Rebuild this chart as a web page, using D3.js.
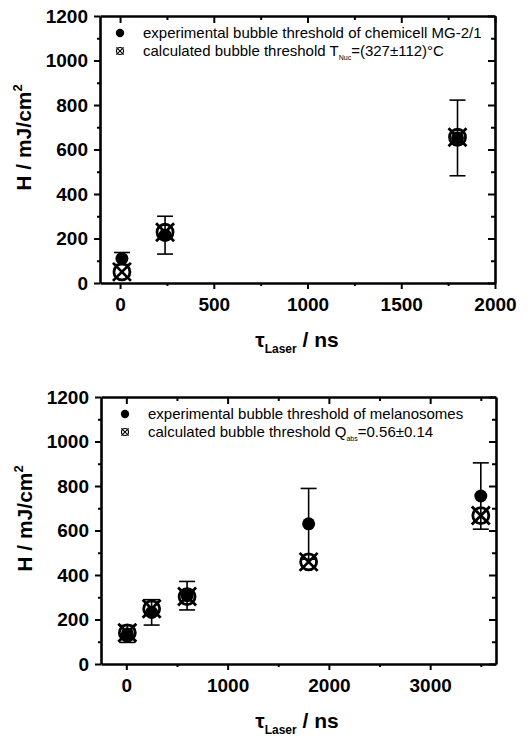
<!DOCTYPE html>
<html>
<head>
<meta charset="utf-8">
<script src="https://cdn.jsdelivr.net/npm/d3@7"></script>
<style>
  body { margin: 0; background: #fff; }
  text { font-family: "Liberation Sans", Arial, sans-serif; fill: #000; }
</style>
</head>
<body>
<svg id="chart" width="530" height="743"></svg>
<script>
//Top panel: chemicell MG-2/1
const tauTop = [10, 240, 1800];
const expTop = [110, 215, 652];
const expErrTop = [27, 85, 170];
const calcTop = [50, 228, 655];

//Bottom panel: melanosomes
const tauBot = [10, 250, 600, 1800, 3500];
const expBot = [135, 232, 307, 630, 755];
const expErrBot = [38, 57, 64, 159, 149];
const calcBot = [140, 248, 303, 459, 667];

//Ticks
const yTicks = [0, 200, 400, 600, 800, 1000, 1200];
const yMinor = [100, 300, 500, 700, 900, 1100];
const xTicksTop = [0, 500, 1000, 1500, 2000];
const xMinorTop = [250, 750, 1250, 1750];
const xTicksBot = [0, 1000, 2000, 3000];
const xMinorBot = [500, 1500, 2500, 3500];

const svg = d3.select("#chart");
const fmt = d3.format("d");

function drawPanel(p) {
  let x = d3.scaleLinear().domain(p.xDomain).range([p.left, p.right]);
  let y = d3.scaleLinear().domain([0, 1200]).range([p.bottom, p.top]);
  let g = svg.append("g");

  //Frame axes: left/bottom ticks outward, top/right ticks inward
  let styleAxis = (sel) => {
    sel.select(".domain").attr("stroke-width", 2.6);
    sel.selectAll(".tick line").attr("stroke-width", 2);
  };
  g.append("g").attr("transform", `translate(${p.left},0)`)
    .call(d3.axisLeft(y).tickValues(yTicks).tickFormat(fmt).tickSize(6).tickSizeOuter(0).tickPadding(6))
    .call(styleAxis)
    .selectAll("text").style("font-size", "19px").style("font-weight", "bold");
  g.append("g").attr("transform", `translate(${p.left},0)`)
    .call(d3.axisLeft(y).tickValues(yMinor).tickSize(3).tickFormat(""))
    .call(styleAxis).select(".domain").remove();
  g.append("g").attr("transform", `translate(${p.right},0)`)
    .call(d3.axisRight(y).tickValues(yTicks).tickSize(-7).tickSizeOuter(0).tickFormat(""))
    .call(styleAxis);
  g.append("g").attr("transform", `translate(${p.right},0)`)
    .call(d3.axisRight(y).tickValues(yMinor).tickSize(-4).tickFormat(""))
    .call(styleAxis).select(".domain").remove();

  g.append("g").attr("transform", `translate(0,${p.bottom})`)
    .call(d3.axisBottom(x).tickValues(p.xTicks).tickFormat(fmt).tickSize(6).tickSizeOuter(0).tickPadding(9))
    .call(styleAxis)
    .selectAll("text").style("font-size", "19px").style("font-weight", "bold");
  g.append("g").attr("transform", `translate(0,${p.bottom})`)
    .call(d3.axisBottom(x).tickValues(p.xMinor).tickSize(3).tickFormat(""))
    .call(styleAxis).select(".domain").remove();
  g.append("g").attr("transform", `translate(0,${p.top})`)
    .call(d3.axisTop(x).tickValues(p.xTicks).tickSize(-7).tickSizeOuter(0).tickFormat(""))
    .call(styleAxis);
  g.append("g").attr("transform", `translate(0,${p.top})`)
    .call(d3.axisTop(x).tickValues(p.xMinor).tickSize(-4).tickFormat(""))
    .call(styleAxis).select(".domain").remove();
  g.selectAll(".tick text").attr("fill", "#000");
  g.selectAll("path.domain, .tick line").attr("stroke", "#000");

  //Axis titles
  let yt = g.append("text")
    .attr("transform", `translate(${p.left - 69},${(p.top + p.bottom) / 2 - 12}) rotate(-90)`)
    .attr("text-anchor", "middle")
    .style("font-size", "21px").style("font-weight", "bold");
  yt.append("tspan").text("H / mJ/cm");
  yt.append("tspan").attr("dy", -9).style("font-size", "13px").text("2");

  let xt = g.append("text")
    .attr("x", 297).attr("y", p.bottom + 64)
    .attr("text-anchor", "middle")
    .style("font-size", "21px").style("font-weight", "bold");
  xt.append("tspan").text("τ");
  xt.append("tspan").attr("dy", 6).style("font-size", "12px").text("Laser");
  xt.append("tspan").attr("dy", -6).text(" / ns");

  //Data
  let idx = d3.range(p.tau.length);
  let eb = g.append("g").attr("stroke", "#000").attr("stroke-width", 1.6);
  eb.selectAll("line.v").data(idx).enter().append("line")
    .attr("x1", i => x(p.tau[i])).attr("x2", i => x(p.tau[i]))
    .attr("y1", i => y(p.exp[i] - p.err[i])).attr("y2", i => y(p.exp[i] + p.err[i]));
  [1, -1].forEach(s => {
    eb.selectAll(null).data(idx).enter().append("line")
      .attr("x1", i => x(p.tau[i]) - 8).attr("x2", i => x(p.tau[i]) + 8)
      .attr("y1", i => y(p.exp[i] + s * p.err[i])).attr("y2", i => y(p.exp[i] + s * p.err[i]));
  });

  g.append("g").selectAll("circle").data(idx).enter().append("circle")
    .attr("cx", i => x(p.tau[i])).attr("cy", i => y(p.exp[i])).attr("r", 6.5)
    .attr("fill", "#000");

  let calcG = g.append("g").selectAll("g").data(idx).enter().append("g")
    .attr("transform", i => `translate(${x(p.tau[i])},${y(p.calc[i])})`);
  calcMarker(calcG, 8, 9, 2.8);

  //Legend
  let lg = g.append("g").attr("transform", `translate(${p.left},${p.top})`);
  lg.append("circle").attr("cx", p.legMarkX).attr("cy", 17).attr("r", 4.2).attr("fill", "#000");
  calcMarker(lg.append("g").attr("transform", `translate(${p.legMarkX},35)`), 3.5, 3.6, 1.1);
  lg.append("text").attr("x", p.legTextX).attr("y", 22).style("font-size", "15px").text(p.leg1);
  let l2 = lg.append("text").attr("x", p.legTextX).attr("y", 40).style("font-size", "15px");
  l2.append("tspan").text(p.leg2a);
  l2.append("tspan").attr("dy", 4).style("font-size", "7px").text(p.leg2sub);
  l2.append("tspan").attr("dy", -4).text(p.leg2b);
}

function calcMarker(sel, r, h, w) {
  sel.append("circle").attr("r", r).attr("fill", "none").attr("stroke", "#000").attr("stroke-width", w);
  sel.append("path").attr("d", `M${-h},${-h}L${h},${h}M${-h},${h}L${h},${-h}`)
    .attr("stroke", "#000").attr("stroke-width", w);
}

drawPanel({
  left: 100, right: 495, top: 16, bottom: 283,
  xDomain: [-107, 2000], xTicks: xTicksTop, xMinor: xMinorTop,
  tau: tauTop, exp: expTop, err: expErrTop, calc: calcTop,
  legMarkX: 20, legTextX: 43,
  leg1: "experimental bubble threshold of chemicell MG-2/1",
  leg2a: "calculated bubble threshold T", leg2sub: "Nuc", leg2b: "=(327±112)°C"
});

drawPanel({
  left: 101, right: 496, top: 397, bottom: 664,
  xDomain: [-250, 3650], xTicks: xTicksBot, xMinor: xMinorBot,
  tau: tauBot, exp: expBot, err: expErrBot, calc: calcBot,
  legMarkX: 24, legTextX: 47,
  leg1: "experimental bubble threshold of melanosomes",
  leg2a: "calculated bubble threshold Q", leg2sub: "abs", leg2b: "=0.56±0.14"
});
</script>
</body>
</html>
